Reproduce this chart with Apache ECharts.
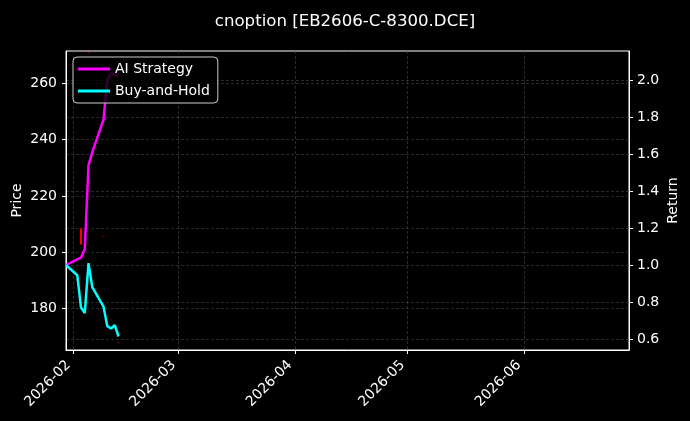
<!DOCTYPE html>
<html>
<head>
<meta charset="utf-8">
<script src="https://cdn.jsdelivr.net/npm/echarts@6/dist/echarts.min.js"></script>
<style>
  html, body { margin: 0; padding: 0; background: #000; }
  #chart { width: 690px; height: 421px; }
</style>
</head>
<body>
<div id="chart"></div>
<script>
// ---- data ----
const dates = ['2026-01-30','2026-02-02','2026-02-03','2026-02-04','2026-02-05','2026-02-06',
               '2026-02-09','2026-02-10','2026-02-11','2026-02-12','2026-02-13'];
const aiStrategy = [1.00, 1.03, 1.04, 1.085, 1.54, 1.61, 1.785, 2.00, 2.035, 2.03, 2.02];
const buyHold    = [1.00, 0.945, 0.77, 0.74, 1.01, 0.88, 0.775, 0.67, 0.657, 0.675, 0.614];

const candleDates = ['2026-02-03','2026-02-04','2026-02-05','2026-02-09','2026-02-11','2026-02-12','2026-02-13'];
const candleOpen  = [208.3, 198.0, 271.0, 205.5, 176.1, 182.4, 167.7];
const candleClose = [202.8, 198.0, 271.0, 205.5, 176.1, 182.4, 167.7];
const candleLow   = [202.8, 198.0, 271.0, 205.5, 176.1, 182.4, 167.7];
const candleHigh  = [208.3, 198.0, 271.0, 205.5, 176.1, 182.4, 167.7];

const monthTicks = ['2026-02-01','2026-03-01','2026-04-01','2026-05-01','2026-06-01'];
const priceTicks = [180, 200, 220, 240, 260];
const returnTicks = [0.6, 0.8, 1.0, 1.2, 1.4, 1.6, 1.8, 2.0];

const titleText = 'cnoption [EB2606-C-8300.DCE]';
// ---------------------------------------

const ts = s => new Date(s + 'T00:00:00Z').getTime();
const font = 'DejaVu Sans';
const gridLine = { show: true, lineStyle: { color: '#474747', width: 0.6, type: [3, 2] } };

const candleData = candleDates.map((d, i) => {
  const doji = candleOpen[i] === candleClose[i];
  return {
    value: [ts(d), candleOpen[i], candleClose[i], candleLow[i], candleHigh[i]],
    itemStyle: doji ? { opacity: 0.35 } : { opacity: 1 }
  };
});

const chart = echarts.init(document.getElementById('chart'));
chart.setOption({
  backgroundColor: '#000',
  animation: false,
  textStyle: { fontFamily: font },
  title: {
    text: titleText, left: 'center', top: 8,
    textStyle: { color: '#fff', fontSize: 16.6, fontWeight: 'normal', fontFamily: font }
  },
  grid: { left: 66, right: 61, top: 51, bottom: 71, containLabel: false, outerBoundsMode: 'none',
          show: true, borderColor: '#fff', borderWidth: 1, backgroundColor: 'transparent' },
  legend: {
    left: 73, top: 57, orient: 'vertical', itemGap: 8,
    itemWidth: 32, itemHeight: 3, icon: 'rect',
    backgroundColor: 'rgba(0,0,0,0.8)', borderColor: '#ccc', borderWidth: 1, borderRadius: 4,
    padding: [5, 8, 5, 5],
    textStyle: { color: '#fff', fontSize: 14, fontFamily: font },
    data: ['AI Strategy', 'Buy-and-Hold']
  },
  xAxis: {
    type: 'value',
    min: ts('2026-01-30'), max: ts('2026-06-29'),
    axisLine: { show: true, onZero: false, lineStyle: { color: '#fff' } },
    axisTick: { show: true, length: 4, lineStyle: { color: '#fff' }, customValues: monthTicks.map(ts) },
    axisLabel: {
      color: '#fff', fontSize: 14, fontFamily: font, rotate: 45, margin: 8, padding: [0, 7, 0, 0],
      customValues: monthTicks.map(ts),
      formatter: v => { const d = new Date(v); return d.getUTCFullYear() + '-' + String(d.getUTCMonth() + 1).padStart(2, '0'); }
    },
    splitLine: gridLine
  },
  yAxis: [
    {
      type: 'value', position: 'left', min: 165.1, max: 271.6,
      name: 'Price', nameLocation: 'middle', nameGap: 42, nameRotate: 90, nameMoveOverlap: false,
      nameTextStyle: { color: '#fff', fontSize: 14, fontFamily: font },
      axisLine: { show: true, lineStyle: { color: '#fff' } },
      axisTick: { show: true, length: 4, lineStyle: { color: '#fff' }, customValues: priceTicks },
      axisLabel: { color: '#fff', fontSize: 14, fontFamily: font, margin: 9, customValues: priceTicks },
      splitLine: gridLine
    },
    {
      type: 'value', position: 'right', min: 0.541, max: 2.156,
      name: 'Return', nameLocation: 'middle', nameGap: 37, nameRotate: 90, nameMoveOverlap: false,
      nameTextStyle: { color: '#fff', fontSize: 14, fontFamily: font },
      axisLine: { show: true, lineStyle: { color: '#fff' } },
      axisTick: { show: true, length: 4, lineStyle: { color: '#fff' }, customValues: returnTicks },
      axisLabel: { color: '#fff', fontSize: 14, fontFamily: font, margin: 8, customValues: returnTicks,
                   formatter: v => v.toFixed(1) },
      splitLine: gridLine
    }
  ],
  series: [
    {
      type: 'candlestick', name: 'Price', yAxisIndex: 0, barWidth: 2,
      itemStyle: { color: '#ff0000', color0: '#ff0000', borderColor: '#ff0000', borderColor0: '#ff0000', borderWidth: 1 },
      data: candleData, z: 1
    },
    {
      type: 'line', name: 'AI Strategy', yAxisIndex: 1, showSymbol: false, symbol: 'none',
      lineStyle: { color: '#ff00ff', width: 2.5 }, itemStyle: { color: '#ff00ff' },
      data: dates.map((d, i) => [ts(d), aiStrategy[i]]), z: 3
    },
    {
      type: 'line', name: 'Buy-and-Hold', yAxisIndex: 1, showSymbol: false, symbol: 'none',
      lineStyle: { color: '#00ffff', width: 2.5 }, itemStyle: { color: '#00ffff' },
      data: dates.map((d, i) => [ts(d), buyHold[i]]), z: 3
    }
  ]
});
</script>
</body>
</html>
